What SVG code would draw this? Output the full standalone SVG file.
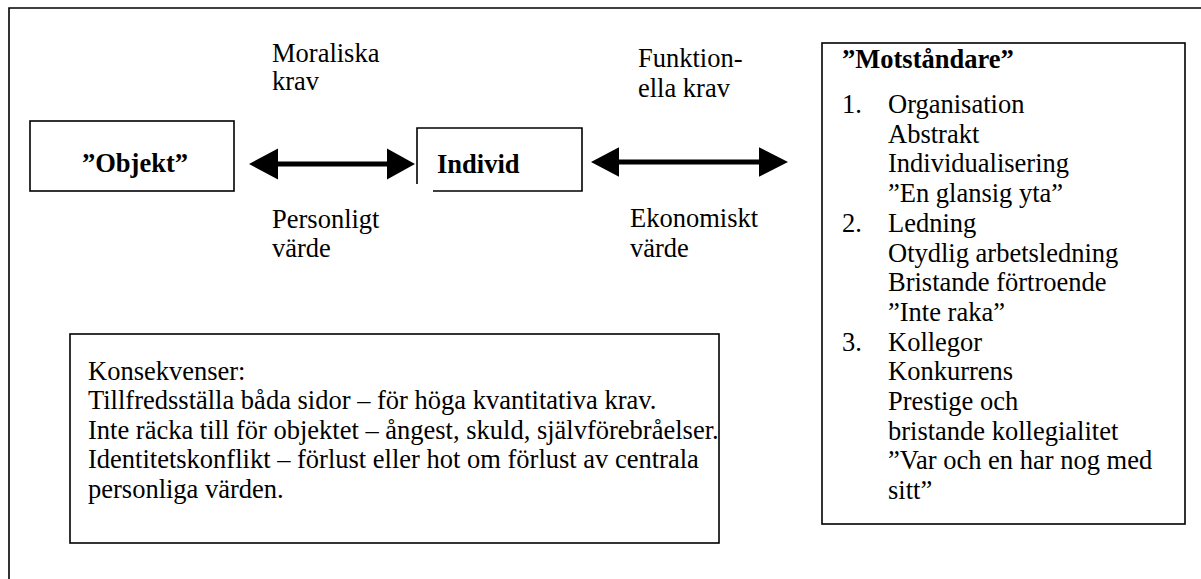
<svg xmlns="http://www.w3.org/2000/svg" width="1201" height="579" viewBox="0 0 1201 579">
<style>
text{font-family:"Liberation Serif","Times New Roman",serif;font-size:26.5px;fill:#000}
.b{font-weight:bold}
.box{fill:none;stroke:#000;stroke-width:1.6}
.shaft{stroke:#000;stroke-width:5}
</style>
<rect width="1201" height="579" fill="#fff"/>
<g id="frame"><path class="box" d="M9 590 V8 H1210"/></g>
<g id="objekt">
<rect class="box" x="30" y="121" width="204" height="70"/>
<text class="b" x="82" y="172">”Objekt”</text>
</g>
<g id="individ">
<path class="box" d="M417 184 V128 H582 V191 H433"/>
<text class="b" x="437" y="173">Individ</text>
</g>
<g id="motstandare">
<rect class="box" x="822" y="43" width="363" height="481"/>
<text class="b" x="842" y="68">”Motståndare”</text>
<text x="842" y="113">1.</text><text x="888" y="113">Organisation</text>
<text x="888" y="142.7">Abstrakt</text>
<text x="888" y="172.4">Individualisering</text>
<text x="888" y="202.1">”En glansig yta”</text>
<text x="842" y="231.8">2.</text><text x="888" y="231.8">Ledning</text>
<text x="888" y="261.5">Otydlig arbetsledning</text>
<text x="888" y="291.2">Bristande förtroende</text>
<text x="888" y="320.9">”Inte raka”</text>
<text x="842" y="350.6">3.</text><text x="888" y="350.6">Kollegor</text>
<text x="888" y="380.3">Konkurrens</text>
<text x="888" y="410">Prestige och</text>
<text x="888" y="439.7">bristande kollegialitet</text>
<text x="888" y="469.4">”Var och en har nog med</text>
<text x="888" y="499.1">sitt”</text>
</g>
<g id="konsekvenser">
<rect class="box" x="70" y="334" width="649" height="209"/>
<text x="88" y="380">Konsekvenser:</text>
<text x="88" y="409">Tillfredsställa båda sidor – för höga kvantitativa krav.</text>
<text x="88" y="438.5">Inte räcka till för objektet – ångest, skuld, självförebråelser.</text>
<text x="88" y="468">Identitetskonflikt – förlust eller hot om förlust av centrala</text>
<text x="88" y="497.5">personliga värden.</text>
</g>
<g id="labels">
<text x="272" y="62">Moraliska</text>
<text x="272" y="90">krav</text>
<text x="272" y="228">Personligt</text>
<text x="272" y="257">värde</text>
<text x="638" y="67">Funktion-</text>
<text x="638" y="97">ella krav</text>
<text x="630" y="227">Ekonomiskt</text>
<text x="630" y="257">värde</text>
</g>
<g id="connectors">
<line class="shaft" x1="270" y1="164" x2="395" y2="164"/>
<path d="M249 164 L278 148.5 L278 179.5 Z"/>
<path d="M415 164 L387 148.5 L387 179.5 Z"/>
<line class="shaft" x1="612" y1="162" x2="766" y2="162"/>
<path d="M591 162 L619 147.3 L619 176.7 Z"/>
<path d="M788 162 L759 147.3 L759 176.7 Z"/>
</g>
</svg>
